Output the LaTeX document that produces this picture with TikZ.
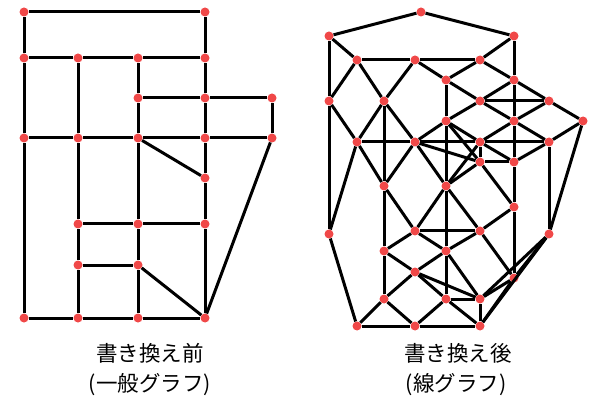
\documentclass[tikz,border=0pt]{standalone}
\usepackage{fontspec}
\newfontfamily\cjk{Noto Sans CJK JP}
\definecolor{dotred}{RGB}{240,72,72}
\begin{document}
\begin{tikzpicture}[x=1pt,y=-1pt,
  vtx/.style={circle,fill=dotred,draw=none,inner sep=0pt,minimum size=9pt},
  edge/.style={line width=3pt,black},
  lbl/.style={font=\cjk\fontsize{21.5}{25}\selectfont,inner sep=0pt,anchor=center}]
\useasboundingbox (0,0) rectangle (589,398);
% ---------- left graph ----------
\foreach \n/\x/\y in {a/24/12,b/205/12,
  c1/24/58,c2/78/58,c3/138/58,c4/205/58,
  d3/138/98,d4/205/98,d5/272/98,
  f1/24/138,f2/78/138,f3/138/138,f4/205/138,f5/272/138,
  g4/205/178,
  h2/78/224,h3/138/224,h4/205/224,
  i2/78/265,i3/138/265,
  j1/24/318,j2/78/318,j3/138/318,j4/205/318}
  \node[vtx] (\n) at (\x,\y) {};
\foreach \u/\v in {a/b,a/c1,b/c4,c1/c2,c2/c3,c3/c4,c1/f1,f1/j1,c2/f2,f2/h2,h2/i2,i2/j2,
  c3/d3,d3/f3,f3/h3,h3/i3,i3/j3,c4/d4,d4/f4,f4/g4,g4/h4,h4/j4,d3/d4,d4/d5,d5/f5,
  f1/f2,f2/f3,f3/f4,f4/f5,f3/g4,h2/h3,h3/h4,i2/i3,i3/j4,f5/j4,j1/j2,j2/j3,j3/j4}
  \draw[edge] (\u) -- (\v);
% ---------- right graph (line graph) ----------
\foreach \n/\x/\y in {1/421/12,2/329/36,3/514/36,4/357/60,5/415/60,6/480/60,
  7/329/101,8/329/234,9/384/101,10/384/186,11/384/251,12/384/299,
  13/446/80,14/446/121,15/446/186,16/446/251,17/446/299,
  18/514/80,19/514/121,20/514/162,21/514/207,22/514/278,
  23/480/101,24/549/101,25/583/121,
  26/357/142,27/415/142,28/480/142,29/549/142,30/480/162,
  31/415/231,32/480/231,33/415/272,34/480/299,35/549/234,
  36/357/326,37/415/326,38/480/326}
  \node[vtx] (e\n) at (\x,\y) {};
\foreach \u/\v in {1/2,1/3,
  2/4,2/7,4/7,
  4/5,4/9,5/9,
  5/6,5/13,6/13,
  3/6,3/18,6/18,
  13/14,13/23,14/23,
  18/19,18/23,18/24,19/23,19/24,23/24,
  24/25,
  7/8,7/26,8/26,
  9/10,9/26,9/27,10/26,10/27,26/27,
  14/15,14/27,14/28,14/30,15/27,15/28,15/30,27/28,27/30,28/30,
  19/20,19/28,19/29,20/28,20/29,28/29,
  25/29,25/35,29/35,
  20/21,20/30,21/30,
  10/11,10/31,11/31,
  15/16,15/31,15/32,16/31,16/32,31/32,
  21/22,21/32,22/32,
  11/12,11/33,12/33,
  16/17,16/33,16/34,17/33,17/34,33/34,
  8/36,
  12/36,12/37,36/37,
  17/37,17/38,37/38,
  22/34,22/35,22/38,34/35,34/38,35/38}
  \draw[edge] (e\u) -- (e\v);
% ---------- labels ----------
\node[lbl] (t1) at (150,353) {書き換え前};
\node[lbl] (t2) at (150,385) {(一般グラフ)};
\node[lbl] (t3) at (458,353) {書き換え後};
\node[lbl] (t4) at (456,385) {(線グラフ)};
\end{tikzpicture}
\end{document}
